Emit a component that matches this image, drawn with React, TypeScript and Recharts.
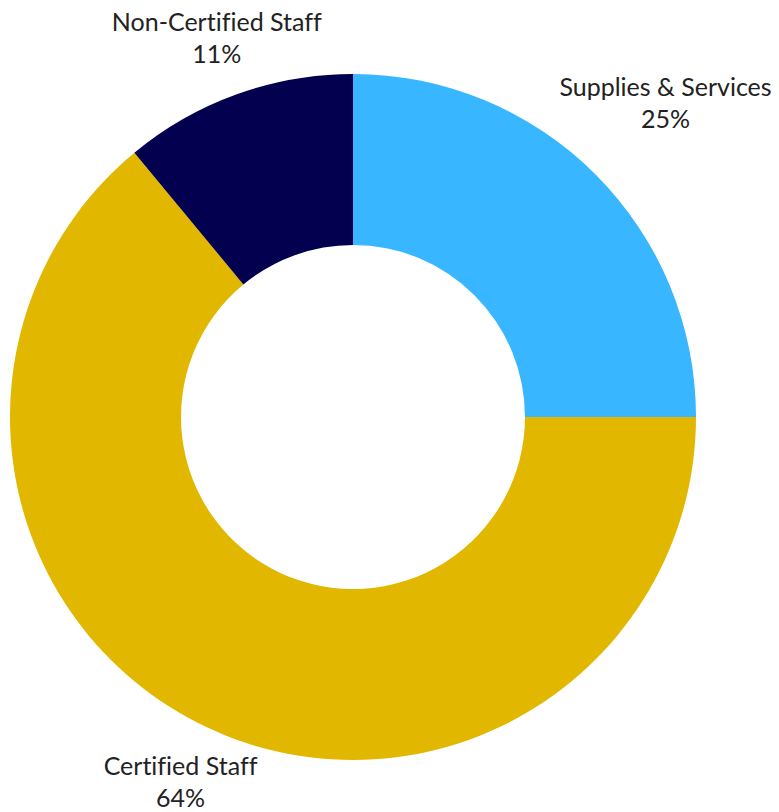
import { PieChart, Pie, Cell } from "recharts";

const categories = ["Supplies & Services", "Certified Staff", "Non-Certified Staff"];
const shares = [25, 64, 11];
const colors = ["#38b6ff", "#e2b700", "#03004f"];

const data = categories.map((name, i) => ({ name, value: shares[i] }));

const FONT = "Lato, 'Noto Sans', sans-serif";
const FONT_SIZE = 25;
const LINE_GAP = 32;

let ctx: CanvasRenderingContext2D | null = null;
function textWidth(s: string) {
  if (!ctx) ctx = document.createElement("canvas").getContext("2d");
  if (!ctx) return s.length * 11;
  ctx.font = `${FONT_SIZE}px ${FONT}`;
  return ctx.measureText(s).width;
}

// put the two-line label block just outside the ring, along the slice's mid angle
const renderLabel = (props: any) => {
  const { cx, cy, midAngle, outerRadius, name, value } = props;
  const pct = `${value}%`;
  const hw = Math.max(textWidth(name), textWidth(pct)) / 2;
  const hh = (LINE_GAP + FONT_SIZE) / 2;
  const clear = outerRadius + 8;
  const rad = (-midAngle * Math.PI) / 180;
  const cos = Math.cos(rad);
  const sin = Math.sin(rad);
  let t = outerRadius;
  for (let i = 0; i < 400; i++) {
    const bx = cx + t * cos;
    const by = cy + t * sin;
    const nx = Math.max(bx - hw, Math.min(cx, bx + hw));
    const ny = Math.max(by - hh, Math.min(cy, by + hh));
    if (Math.hypot(nx - cx, ny - cy) >= clear) break;
    t += 1;
  }
  const x = cx + t * cos;
  const y = cy + t * sin;
  return (
    <text
      x={x}
      y={y}
      textAnchor="middle"
      fill="#222"
      fontFamily={FONT}
      fontSize={FONT_SIZE}
      style={{ fontVariantLigatures: "none" }}
    >
      <tspan x={x} dy={-LINE_GAP / 2 + 8}>{name}</tspan>
      <tspan x={x} dy={LINE_GAP}>{pct}</tspan>
    </text>
  );
};

export default function App() {
  return (
    <div style={{ position: "absolute", left: 0, top: 0, background: "#fff" }}>
      <PieChart width={779} height={812}>
        <Pie
          data={data}
          dataKey="value"
          nameKey="name"
          cx={348}
          cy={412}
          innerRadius={172}
          outerRadius={343}
          startAngle={90}
          endAngle={-270}
          stroke="none"
          label={renderLabel}
          labelLine={false}
          isAnimationActive={false}
        >
          {data.map((d, i) => (
            <Cell key={d.name} fill={colors[i]} />
          ))}
        </Pie>
      </PieChart>
    </div>
  );
}
